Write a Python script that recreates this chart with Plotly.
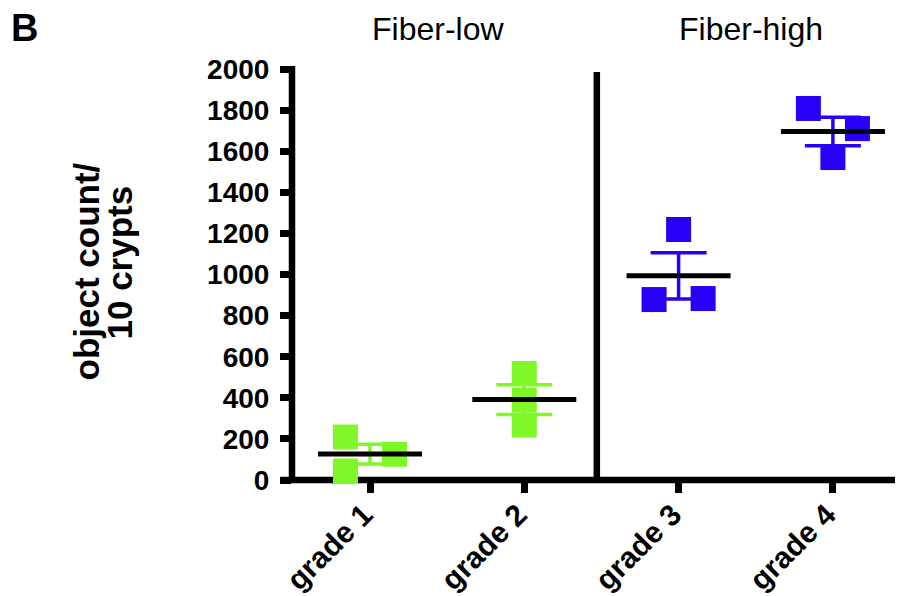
import numpy as np
import plotly.graph_objects as go

# ---- data ----
categories = ["grade 1", "grade 2", "grade 3", "grade 4"]
group_labels = ["Fiber-low", "Fiber-high"]
grade1 = [209, 44, 125]
grade2 = [518, 389, 267]
grade3 = [1219, 878, 883]
grade4 = [1808, 1710, 1569]
y_tickvals = [0, 200, 400, 600, 800, 1000, 1200, 1400, 1600, 1800, 2000]
y_title_lines = ["object count/", "10 crypts"]
panel_letter = "B"

# ---- styling ----
GREEN = "#80F828"
BLUE = "#2800F5"
FONT = "Liberation Sans, Arial, sans-serif"
series = [grade1, grade2, grade3, grade4]
colors = [GREEN, GREEN, BLUE, BLUE]
# column-scatter spread of the points (GraphPad style), in steps
spread = [[-1, -1, 1], [0, 0, 0], [0, -1, 1], [-1, 1, 0]]
SPREAD_STEP = 0.159
MEAN_HALF = 0.337
SEPARATOR_X = 1.47

fig = go.Figure()

means = [float(np.mean(v)) for v in series]
sems = [float(np.std(v, ddof=1) / np.sqrt(len(v))) for v in series]

# error bars (SEM)
for i, (m, s, c) in enumerate(zip(means, sems, colors)):
    fig.add_trace(go.Scatter(
        x=[i], y=[m], mode="markers",
        marker=dict(size=1, color="rgba(0,0,0,0)"),
        error_y=dict(type="data", array=[s], color=c, thickness=3.5, width=28),
        showlegend=False, hoverinfo="skip", cliponaxis=False))

# individual points
for i, (vals, c) in enumerate(zip(series, colors)):
    xs = [i + d * SPREAD_STEP for d in spread[i]]
    fig.add_trace(go.Scatter(
        x=xs, y=vals, mode="markers",
        marker=dict(symbol="square", size=25, color=c, line=dict(width=0)),
        showlegend=False, cliponaxis=False))

# mean lines
for i, m in enumerate(means):
    fig.add_trace(go.Scatter(
        x=[i - MEAN_HALF, i + MEAN_HALF], y=[m, m], mode="lines",
        line=dict(color="black", width=5),
        showlegend=False, hoverinfo="skip", cliponaxis=False))

# page body has an 8px default margin: lay the figure out in window pixels
OFF = 8
VW, VH = 903, 596
W, H = VW - OFF, VH - OFF
PLOT_LEFT, PLOT_TOP, PLOT_BOTTOM = 292, 69, 480   # window px
L = PLOT_LEFT - OFF
T = PLOT_TOP - OFF
B = H - (PLOT_BOTTOM - OFF)
R = 0
pw, ph = W - L - R, H - T - B

def px_to_paper_x(px):
    return (px - OFF - L) / pw

def px_to_paper_y(py):
    return (H - B - (py - OFF)) / ph

shapes = [
    # y axis line
    dict(type="line", xref="paper", yref="paper", x0=0, x1=0,
         y0=px_to_paper_y(483), y1=px_to_paper_y(66),
         line=dict(color="black", width=6.5), layer="below"),
    # x axis line
    dict(type="line", xref="paper", yref="paper", x0=px_to_paper_x(281), x1=1,
         y0=0, y1=0, line=dict(color="black", width=6.5), layer="below"),
    # group separator
    dict(type="line", xref="x", yref="y", x0=SEPARATOR_X, x1=SEPARATOR_X,
         y0=0, y1=1985, line=dict(color="black", width=6.5), layer="below"),
]

annotations = [
    dict(text=group_labels[0], xref="x", yref="paper", x=0.44, y=px_to_paper_y(29.5),
         xanchor="center", yanchor="middle",
         showarrow=False, font=dict(family=FONT, size=32, color="black")),
    dict(text=group_labels[1], xref="x", yref="paper", x=2.47, y=px_to_paper_y(29.5),
         xanchor="center", yanchor="middle",
         showarrow=False, font=dict(family=FONT, size=32, color="black")),
    dict(text="<b>%s</b>" % panel_letter, xref="paper", yref="paper",
         x=px_to_paper_x(9), y=px_to_paper_y(28), xanchor="left", yanchor="middle",
         showarrow=False, font=dict(family=FONT, size=38, color="black")),
    dict(text="<b>%s</b>" % y_title_lines[0], xref="paper", yref="paper",
         x=px_to_paper_x(86), y=px_to_paper_y(271.5), textangle=-90,
         xanchor="center", yanchor="middle",
         showarrow=False, font=dict(family=FONT, size=35, color="black")),
    dict(text="<b>%s</b>" % y_title_lines[1], xref="paper", yref="paper",
         x=px_to_paper_x(119), y=px_to_paper_y(262.5), textangle=-90,
         xanchor="center", yanchor="middle",
         showarrow=False, font=dict(family=FONT, size=35, color="black")),
]

fig.update_layout(
    width=W, height=H, autosize=False,
    margin=dict(l=L, r=R, t=T, b=B, pad=0, autoexpand=False),
    paper_bgcolor="white", plot_bgcolor="white",
    shapes=shapes, annotations=annotations,
    font=dict(family=FONT, color="black"),
    showlegend=False,
)
fig.update_xaxes(
    range=[(PLOT_LEFT - 370) / 154.3, (VW - 370) / 154.3],
    tickvals=list(range(len(categories))), ticktext=categories,
    tickangle=-45, ticks="outside", ticklen=12, tickwidth=6.5, tickcolor="black",
    ticklabelstandoff=-8, ticklabelshift=-6,
    tickfont=dict(family=FONT, size=30, color="black", weight="bold"),
    showgrid=False, zeroline=False, showline=False, automargin=False,
)
fig.update_yaxes(
    range=[0, 2000], tickvals=y_tickvals,
    ticks="outside", ticklen=11, tickwidth=6.5, tickcolor="black",
    ticklabelstandoff=5,
    tickfont=dict(family=FONT, size=28, color="black", weight="bold"),
    showgrid=False, zeroline=False, showline=False, automargin=False,
)

fig.write_html("out.html")
